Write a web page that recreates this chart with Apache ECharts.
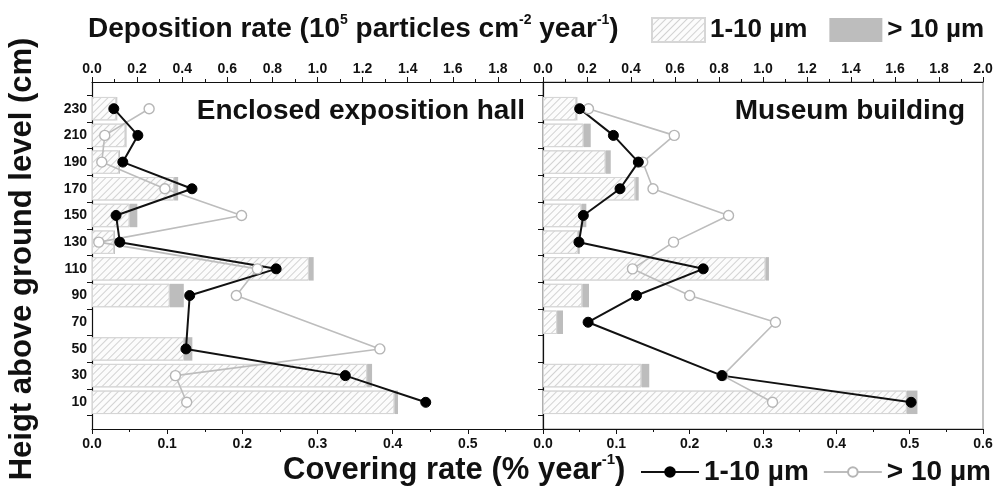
<!DOCTYPE html>
<html>
<head>
<meta charset="utf-8">
<script src="https://cdn.jsdelivr.net/npm/echarts@6/dist/echarts.min.js"></script>
<style>html,body{margin:0;padding:0;background:#fff}#c{width:1005px;height:493px}</style>
</head>
<body>
<div id="c"></div>
<script>
// ---- data (heights in cm, ascending) ----
const heights = [10, 30, 50, 70, 90, 110, 130, 150, 170, 190, 210, 230];
// Enclosed exposition hall
const hallCover1to10 = [0.444, 0.337, 0.125, null, 0.130, 0.245, 0.037, 0.032, 0.133, 0.041, 0.061, 0.029];
const hallCoverOver10 = [0.126, 0.111, 0.383, null, 0.192, 0.220, 0.009, 0.199, 0.097, 0.013, 0.017, 0.076];
const hallDepo1to10 = [1.342, 1.220, 0.408, null, 0.345, 0.962, 0.098, 0.167, 0.364, 0.120, 0.149, 0.108];
const hallDepoOver10 = [0.015, 0.022, 0.037, null, 0.062, 0.021, 0.004, 0.034, 0.018, 0.004, 0.004, 0.004];
// Museum building
const musCover1to10 = [0.502, 0.244, null, 0.0615, 0.1275, 0.2185, 0.049, 0.055, 0.105, 0.130, 0.096, 0.050];
const musCoverOver10 = [0.313, 0.245, null, 0.317, 0.200, 0.122, 0.178, 0.253, 0.150, 0.136, 0.179, 0.062];
const musDepo1to10 = [1.654, 0.448, null, 0.064, 0.179, 1.012, 0.159, 0.175, 0.420, 0.285, 0.185, 0.152];
const musDepoOver10 = [0.048, 0.035, null, 0.027, 0.030, 0.015, 0.008, 0.022, 0.015, 0.023, 0.032, 0.004];
// labels
const panelTitles = ['Enclosed exposition hall', 'Museum building'];
const legendLabels = { bar1: '1-10 µm', bar2: '> 10 µm', line1: '1-10 µm', line2: '> 10 µm' };

const FONT = '"Liberation Sans", Arial, Helvetica, sans-serif';

const chart = echarts.init(document.getElementById('c'), null, { renderer: 'canvas' });

function pts(vals) {
  return heights.map((h, i) => [vals[i], h]).filter(p => p[0] !== null);
}
function bars(vals) {
  return vals.map(v => (v === null ? '-' : v));
}
const fmt1 = v => v.toFixed(1);

const tickLabel = { fontFamily: FONT, fontWeight: 'bold', fontSize: 14, color: '#111' };

const hatch = {
  color: '#fcfcfc',
  borderColor: '#d6d6d6',
  borderWidth: 1,
  decal: { symbol: 'rect', color: '#d2d2d2', dashArrayX: [1, 0], dashArrayY: [1, 4], rotation: -Math.PI / 4, symbolSize: 1 }
};
const solid = { color: '#bdbdbd' };

function xBottom(grid, showMax) {
  return {
    type: 'value', gridIndex: grid, position: 'bottom', min: 0, max: 0.6, interval: 0.1,
    axisLine: { show: true, onZero: false, lineStyle: { color: '#111', width: 1.2 } },
    axisTick: { show: true, length: 5, lineStyle: { color: '#111' } },
    minorTick: { show: true, splitNumber: 2, length: 3, lineStyle: { color: '#111' } },
    splitLine: { show: false },
    axisLabel: Object.assign({ formatter: fmt1, showMaxLabel: showMax, margin: 8 }, tickLabel)
  };
}
function xTop(grid, showMax) {
  return {
    type: 'value', gridIndex: grid, position: 'top', min: 0, max: 2.0, interval: 0.2,
    axisLine: { show: true, onZero: false, lineStyle: { color: '#111', width: 1.2 } },
    axisTick: { show: true, length: 5, lineStyle: { color: '#111' } },
    minorTick: { show: true, splitNumber: 2, length: 3, lineStyle: { color: '#111' } },
    splitLine: { show: false },
    axisLabel: Object.assign({ formatter: fmt1, showMaxLabel: showMax, margin: 6 }, tickLabel)
  };
}
function xHidden(grid) {
  return { type: 'value', gridIndex: grid, min: 0, max: 2.0, show: false, splitLine: { show: false } };
}
function yValue(grid) {
  return {
    type: 'value', gridIndex: grid, min: -10, max: 250,
    axisLine: { show: true, onZero: false, lineStyle: { color: '#111', width: 1.2 } },
    axisTick: { show: false }, axisLabel: { show: false }, splitLine: { show: false }
  };
}
function yCat(grid, showLabels) {
  return {
    type: 'category', gridIndex: grid, data: heights.map(String), boundaryGap: true,
    axisLine: { show: false },
    axisTick: { show: true, interval: 0, length: 5, lineStyle: { color: '#111' } },
    axisLabel: Object.assign({ show: showLabels, interval: 0, margin: 5 }, tickLabel),
    splitLine: { show: false }
  };
}

const gTop = 82, gH = 347;
const unit = gH / 260;
const bTop = gTop + 10 * unit, bH = 240 * unit;

const option = {
  animation: false,
  backgroundColor: '#fff',
  grid: [
    { left: 92, top: gTop, width: 451, height: gH, containLabel: false },
    { left: 543, top: gTop, width: 440, height: gH, show: true, borderColor: '#9a9a9a', borderWidth: 1.2, backgroundColor: 'transparent' },
    { left: 92, top: bTop, width: 451, height: bH },
    { left: 543, top: bTop, width: 440, height: bH }
  ],
  xAxis: [xBottom(0, false), xTop(0, false), xBottom(1, true), xTop(1, true), xHidden(2), xHidden(3)],
  yAxis: [yValue(0), yValue(1), yCat(2, true), yCat(3, false)],
  legend: [
    {
      data: ['bar1', 'bar2'], icon: 'rect', left: 651, top: 17, width: 360, itemWidth: 53, itemHeight: 24, itemGap: 22,
      formatter: n => legendLabels[n], selectedMode: false, padding: 0,
      textStyle: { fontFamily: FONT, fontWeight: 'bold', fontSize: 26, color: '#111' }
    },
    {
      data: ['line1', 'line2'], left: 640, top: 458, width: 370, itemWidth: 58, itemHeight: 12, itemGap: 14,
      formatter: n => legendLabels[n], selectedMode: false, padding: 0,
      textStyle: { fontFamily: FONT, fontWeight: 'bold', fontSize: 28, color: '#111' }
    }
  ],
  series: [
    { type: 'bar', name: 'bar1', xAxisIndex: 4, yAxisIndex: 2, stack: 'h', barCategoryGap: '12%', data: bars(hallDepo1to10), itemStyle: hatch },
    { type: 'bar', name: 'bar2', xAxisIndex: 4, yAxisIndex: 2, stack: 'h', barCategoryGap: '12%', data: bars(hallDepoOver10), itemStyle: solid },
    { type: 'bar', name: 'bar1', xAxisIndex: 5, yAxisIndex: 3, stack: 'm', barCategoryGap: '12%', data: bars(musDepo1to10), itemStyle: hatch },
    { type: 'bar', name: 'bar2', xAxisIndex: 5, yAxisIndex: 3, stack: 'm', barCategoryGap: '12%', data: bars(musDepoOver10), itemStyle: solid },
    { type: 'line', name: 'line2', xAxisIndex: 0, yAxisIndex: 0, data: pts(hallCoverOver10), symbol: 'circle', symbolSize: 10,
      lineStyle: { color: '#bdbdbd', width: 1.6 }, itemStyle: { color: '#fff', borderColor: '#b5b5b5', borderWidth: 1.4 } },
    { type: 'line', name: 'line2', xAxisIndex: 2, yAxisIndex: 1, data: pts(musCoverOver10), symbol: 'circle', symbolSize: 10,
      lineStyle: { color: '#bdbdbd', width: 1.6 }, itemStyle: { color: '#fff', borderColor: '#b5b5b5', borderWidth: 1.4 } },
    { type: 'line', name: 'line1', xAxisIndex: 0, yAxisIndex: 0, data: pts(hallCover1to10), symbol: 'circle', symbolSize: 10,
      lineStyle: { color: '#111', width: 2 }, itemStyle: { color: '#000', borderColor: '#000', borderWidth: 1 } },
    { type: 'line', name: 'line1', xAxisIndex: 2, yAxisIndex: 1, data: pts(musCover1to10), symbol: 'circle', symbolSize: 10,
      lineStyle: { color: '#111', width: 2 }, itemStyle: { color: '#000', borderColor: '#000', borderWidth: 1 } }
  ],
  graphic: [
    {
      type: 'text', left: 88, top: 13, z: 10,
      style: {
        text: '{a|Deposition rate (10}{s|5}{a| particles cm}{s|-2}{a| year}{s|-1}{a|)}',
        rich: {
          a: { fontFamily: FONT, fontWeight: 'bold', fontSize: 28, lineHeight: 33, fill: '#111' },
          s: { fontFamily: FONT, fontWeight: 'bold', fontSize: 14, lineHeight: 14, verticalAlign: 'top', fill: '#111' }
        }
      }
    },
    {
      type: 'text', left: 283, top: 452, z: 10,
      style: {
        text: '{a|Covering rate (% year}{s|-1}{a|)}',
        rich: {
          a: { fontFamily: FONT, fontWeight: 'bold', fontSize: 31, lineHeight: 36, fill: '#111' },
          s: { fontFamily: FONT, fontWeight: 'bold', fontSize: 15, lineHeight: 15, verticalAlign: 'top', fill: '#111' }
        }
      }
    },
    {
      type: 'text', x: 22, y: 259, rotation: Math.PI / 2, z: 10,
      style: { text: 'Heigt above ground level (cm)', fontFamily: FONT, fontWeight: 'bold', fontSize: 31, fill: '#111', align: 'center', verticalAlign: 'middle' }
    },
    {
      type: 'text', x: 525, y: 111, z: 10,
      style: { text: panelTitles[0], fontFamily: FONT, fontWeight: 'bold', fontSize: 28, fill: '#111', align: 'right', verticalAlign: 'middle' }
    },
    {
      type: 'text', x: 965, y: 111, z: 10,
      style: { text: panelTitles[1], fontFamily: FONT, fontWeight: 'bold', fontSize: 28, fill: '#111', align: 'right', verticalAlign: 'middle' }
    }
  ]
};
chart.setOption(option);
</script>
</body>
</html>
